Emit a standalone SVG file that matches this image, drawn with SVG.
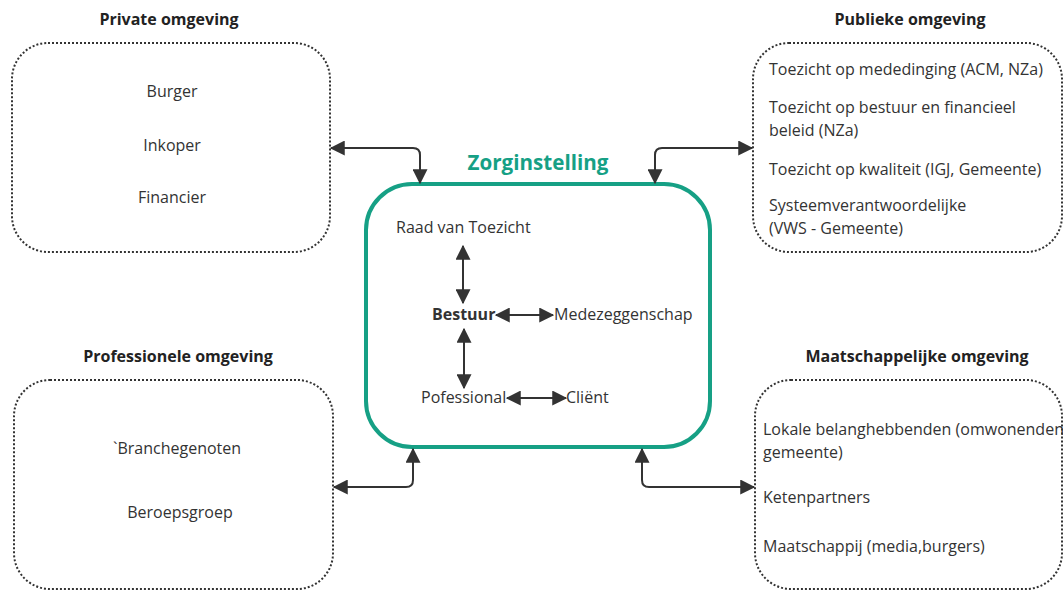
<svg xmlns="http://www.w3.org/2000/svg" width="1063" height="591" viewBox="0 0 1063 591">
  <defs>
    <marker id="ah" viewBox="0 0 12 12" refX="11" refY="6" markerWidth="15" markerHeight="15" markerUnits="userSpaceOnUse" orient="auto-start-reverse">
      <path d="M0,0 L12,6 L0,12 Z" fill="#333"/>
    </marker>
    <style>
      .frame { fill: #fff; stroke: #333; stroke-width: 2; stroke-dasharray: 2 2; }
      .hub { fill: #fff; stroke: #16a085; stroke-width: 4; }
      .head { font-family: "Open Sans", "Liberation Sans", sans-serif; font-size: 16px; font-weight: bold; fill: #222; }
      .t { font-family: "Open Sans", "Liberation Sans", sans-serif; font-size: 16px; fill: #333; }
      .title { font-family: "Open Sans", "Liberation Sans", sans-serif; font-size: 20.6px; font-weight: bold; fill: #16a085; }
      .link { fill: none; stroke: #333; stroke-width: 2; marker-start: url(#ah); marker-end: url(#ah); }
    </style>
  </defs>
  <rect width="1063" height="591" fill="#fff"/>

  <g id="private">
    <text class="head" x="169" y="25" text-anchor="middle">Private omgeving</text>
    <rect class="frame" x="12" y="43" width="318" height="209" rx="36"/>
    <text class="t" x="172" y="97" text-anchor="middle">Burger</text>
    <text class="t" x="172" y="151" text-anchor="middle">Inkoper</text>
    <text class="t" x="172" y="203" text-anchor="middle">Financier</text>
  </g>

  <g id="publiek">
    <text class="head" x="910" y="25" text-anchor="middle">Publieke omgeving</text>
    <rect class="frame" x="753" y="43" width="309" height="209" rx="36"/>
    <text class="t" x="769" y="75">Toezicht op mededinging (ACM, NZa)</text>
    <text class="t" x="769" y="113">Toezicht op bestuur en financieel</text>
    <text class="t" x="769" y="136">beleid (NZa)</text>
    <text class="t" x="769" y="175">Toezicht op kwaliteit (IGJ, Gemeente)</text>
    <text class="t" x="769" y="211">Systeemverantwoordelijke</text>
    <text class="t" x="769" y="234">(VWS - Gemeente)</text>
  </g>

  <g id="professioneel">
    <text class="head" x="178" y="362" text-anchor="middle">Professionele omgeving</text>
    <rect class="frame" x="14" y="380" width="319" height="209" rx="36"/>
    <text class="t" x="113" y="454">`Branchegenoten</text>
    <text class="t" x="180" y="518" text-anchor="middle">Beroepsgroep</text>
  </g>

  <g id="maatschappelijk">
    <text class="head" x="917" y="362" text-anchor="middle">Maatschappelijke omgeving</text>
    <rect class="frame" x="755" y="380" width="307" height="209" rx="36"/>
    <text class="t" x="763" y="435">Lokale belanghebbenden (omwonenden,</text>
    <text class="t" x="763" y="458">gemeente)</text>
    <text class="t" x="763" y="503">Ketenpartners</text>
    <text class="t" x="763" y="552">Maatschappij (media,burgers)</text>
  </g>

  <g id="zorginstelling">
    <text class="title" x="538" y="170" text-anchor="middle">Zorginstelling</text>
    <rect class="hub" x="366" y="184" width="344" height="263" rx="46"/>
    <text class="t" x="396" y="233">Raad van Toezicht</text>
    <text class="t" x="432" y="320" style="font-weight:bold">Bestuur</text>
    <text class="t" x="554" y="320">Medezeggenschap</text>
    <text class="t" x="421" y="403">Pofessional</text>
    <text class="t" x="566" y="403">Cliënt</text>
  </g>

  <g id="connectors">
    <path class="link" d="M331,148 H413 Q420,148 420,155 V183"/>
    <path class="link" d="M655,183 V155 Q655,148 662,148 H752"/>
    <path class="link" d="M334,487 H406 Q413,487 413,480 V449"/>
    <path class="link" d="M754,487 H649 Q642,487 642,480 V449"/>
    <path class="link" d="M463,246 V303"/>
    <path class="link" d="M496,315 H553"/>
    <path class="link" d="M464,329 V388"/>
    <path class="link" d="M507,398 H566"/>
  </g>
</svg>
